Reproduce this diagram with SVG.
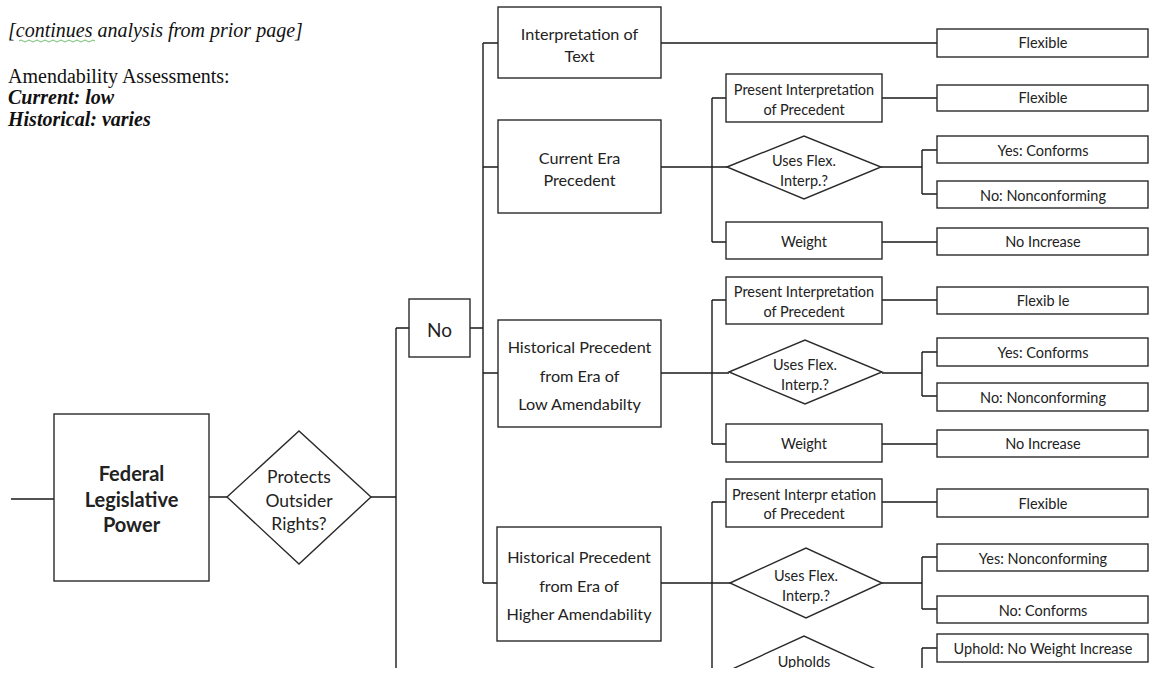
<svg xmlns="http://www.w3.org/2000/svg" width="1149" height="673" viewBox="0 0 1149 673">
<style>
.b{fill:#fff;stroke:#2a2a2a;stroke-width:1.4}
.c{fill:none;stroke:#1a1a1a;stroke-width:1.4}
.t{font-family:Lato,"Liberation Sans",sans-serif;fill:#222;text-anchor:middle}
.s13{font-size:14.5px}
.s14{font-size:16.2px}
.tm{font-family:"Liberation Serif",serif;font-size:20px;fill:#111}
</style>
<defs><clipPath id="clip"><rect x="0" y="0" width="1149" height="668"/></clipPath></defs>
<rect width="1149" height="673" fill="#fff"/>
<g id="header">
<text class="tm" x="8" y="37" font-style="italic" fill="#333">[continues analysis from prior page]</text>
<path d="M19 41 q2 -2 4 0 t4 0 t4 0 t4 0 t4 0 t4 0 t4 0 t4 0 t4 0 t4 0 t4 0 t4 0 t4 0 t4 0 t4 0 t4 0 t4 0 t4 0 t4 0" fill="none" stroke="#5cb85c" stroke-width="0.9"/>
<text class="tm" x="8" y="83">Amendability Assessments:</text>
<text class="tm" x="8" y="104" font-style="italic" font-weight="bold">Current: low</text>
<text class="tm" x="8" y="126" font-style="italic" font-weight="bold">Historical: varies</text>
</g>
<g clip-path="url(#clip)">
<g id="connectors">
<path class="c" d="M11 499H54 M209 497H227 M371 497H396 M396 328V668 M396 328H409"/>
<path class="c" d="M470 328H483 M483 43V583 M483 43H498 M483 167H498 M483 373H498 M483 583H498"/>
<path class="c" d="M661 43H937"/>
<path class="c" d="M661 167H727 M712 98V242 M712 98H726 M712 242H726 M882 98H937 M881 167H922 M922 150V194 M922 150H937 M922 194H937 M882 242H937"/>
<path class="c" d="M661 373H729 M712 300V444 M712 300H726 M712 444H726 M882 300H937 M882 373H922 M922 352V396 M922 352H937 M922 396H937 M882 444H937"/>
<path class="c" d="M661 583H730 M712 502V668 M712 502H726 M882 502H937 M882 583H922 M922 557V609 M922 557H937 M922 609H937 M922 648V668 M922 648H937"/>
</g>
<g id="federal"><rect class="b" x="54" y="414" width="155" height="167"/>
<text class="t" font-size="20" font-weight="bold" fill="#111"><tspan x="131.5" y="481">Federal</tspan><tspan x="131.5" y="507">Legislative</tspan><tspan x="131.5" y="532">Power</tspan></text></g>
<g id="protects"><polygon class="b" points="227,497 299,431 371,497 299,564"/>
<text class="t" font-size="17.5"><tspan x="299" y="483">Protects</tspan><tspan x="299" y="507">Outsider</tspan><tspan x="299" y="530">Rights?</tspan></text></g>
<g id="no"><rect class="b" x="409" y="299" width="61" height="58"/><text class="t" font-size="19" x="439.5" y="337">No</text></g>
<g id="interp-text"><rect class="b" x="498" y="7" width="163" height="71"/>
<text class="t s14"><tspan x="579.5" y="40">Interpretation  of</tspan><tspan x="579.5" y="62">Text</tspan></text></g>
<g id="current-era"><rect class="b" x="498" y="120" width="163" height="93"/>
<text class="t s14"><tspan x="579.5" y="164">Current Era</tspan><tspan x="579.5" y="186">Precedent</tspan></text></g>
<g id="hist-low"><rect class="b" x="498" y="320" width="163" height="107"/>
<text class="t s14"><tspan x="579.5" y="353">Historical Precedent</tspan><tspan x="579.5" y="382">from Era of</tspan><tspan x="579.5" y="410">Low Amendabilty</tspan></text></g>
<g id="hist-high"><rect class="b" x="497" y="527" width="164" height="114"/>
<text class="t s14"><tspan x="579" y="563">Historical Precedent</tspan><tspan x="579" y="592">from Era of</tspan><tspan x="579" y="620">Higher Amendability</tspan></text></g>
<g id="flex-text"><rect class="b" x="937" y="29" width="211" height="28"/><text class="t s13" x="1043" y="48">Flexible</text></g>
<g id="c-present"><rect class="b" x="726" y="74" width="156" height="48"/>
<text class="t s13"><tspan x="804" y="95">Present Interpretation</tspan><tspan x="804" y="115">of Precedent</tspan></text></g>
<g id="c-flex"><rect class="b" x="937" y="85" width="211" height="26"/><text class="t s13" x="1043" y="103">Flexible</text></g>
<g id="c-uses"><polygon class="b" points="727,167 804,136 881,167 804,199"/>
<text class="t s13"><tspan x="804" y="166">Uses Flex.</tspan><tspan x="804" y="186">Interp.?</tspan></text></g>
<g id="c-yes"><rect class="b" x="937" y="136" width="211" height="27"/><text class="t s13" x="1043" y="156">Yes: Conforms</text></g>
<g id="c-no"><rect class="b" x="937" y="181" width="211" height="27"/><text class="t s13" x="1043" y="201">No: Nonconforming</text></g>
<g id="c-weight"><rect class="b" x="726" y="222" width="156" height="37"/><text class="t s13" x="804" y="247">Weight</text></g>
<g id="c-noinc"><rect class="b" x="937" y="228" width="211" height="27"/><text class="t s13" x="1043" y="247">No Increase</text></g>
<g id="l-present"><rect class="b" x="726" y="277" width="156" height="47"/>
<text class="t s13"><tspan x="804" y="297">Present Interpretation</tspan><tspan x="804" y="317">of Precedent</tspan></text></g>
<g id="l-flex"><rect class="b" x="937" y="287" width="211" height="27"/><text class="t s13" x="1043" y="306">Flexib le</text></g>
<g id="l-uses"><polygon class="b" points="729,372 805,340 882,372 805,404"/>
<text class="t s13"><tspan x="805" y="370">Uses Flex.</tspan><tspan x="805" y="390">Interp.?</tspan></text></g>
<g id="l-yes"><rect class="b" x="937" y="338" width="211" height="28"/><text class="t s13" x="1043" y="358">Yes: Conforms</text></g>
<g id="l-no"><rect class="b" x="937" y="383" width="211" height="28"/><text class="t s13" x="1043" y="403">No: Nonconforming</text></g>
<g id="l-weight"><rect class="b" x="726" y="424" width="156" height="38"/><text class="t s13" x="804" y="449">Weight</text></g>
<g id="l-noinc"><rect class="b" x="937" y="430" width="211" height="27"/><text class="t s13" x="1043" y="449">No Increase</text></g>
<g id="h-present"><rect class="b" x="726" y="479" width="156" height="48"/>
<text class="t s13"><tspan x="804" y="500">Present  Interpr etation</tspan><tspan x="804" y="519">of Precedent</tspan></text></g>
<g id="h-flex"><rect class="b" x="937" y="489" width="211" height="28"/><text class="t s13" x="1043" y="509">Flexible</text></g>
<g id="h-uses"><polygon class="b" points="730,583 806,548 882,583 806,618"/>
<text class="t s13"><tspan x="806" y="581">Uses Flex.</tspan><tspan x="806" y="601">Interp.?</tspan></text></g>
<g id="h-yes"><rect class="b" x="937" y="544" width="211" height="27"/><text class="t s13" x="1043" y="564">Yes: Nonconforming</text></g>
<g id="h-no"><rect class="b" x="937" y="596" width="211" height="27"/><text class="t s13" x="1043" y="616">No: Conforms</text></g>
<g id="h-upholds"><polygon class="b" points="728,671 804,636 880,671 804,706"/><text class="t s13" x="804" y="667">Upholds</text></g>
<g id="h-uphold"><rect class="b" x="937" y="634" width="211" height="28"/><text class="t s13" x="1043" y="654">Uphold: No Weight Increase</text></g>
</g>
</svg>
